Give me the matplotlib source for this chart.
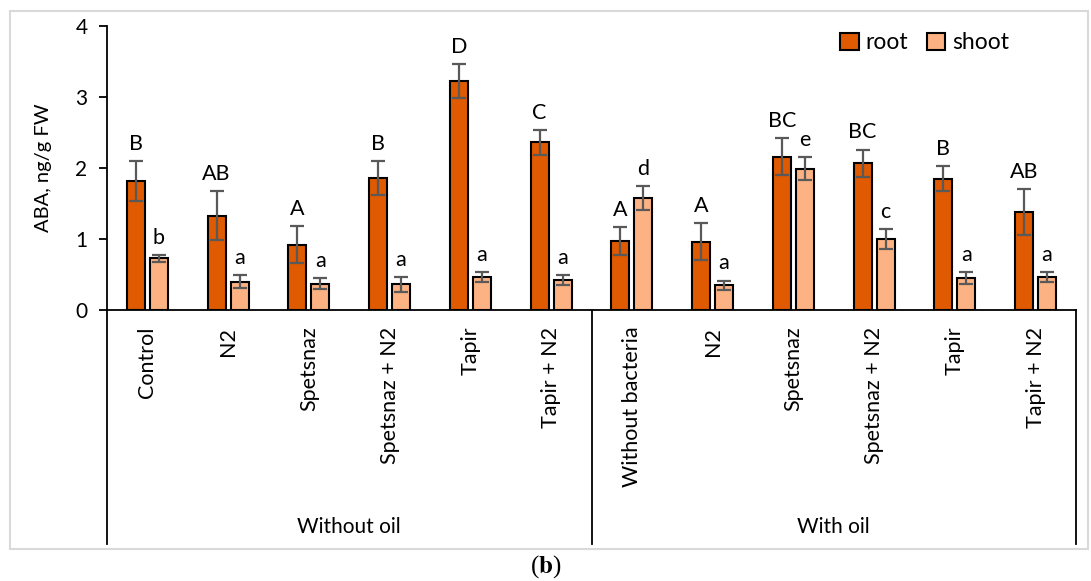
import numpy as np
import matplotlib.pyplot as plt
from matplotlib.patches import Rectangle
import matplotlib.transforms as mtransforms

plt.rcParams['font.family'] = ['Lato', 'DejaVu Sans']
plt.rcParams['mathtext.fontset'] = 'stix'

# data
categories = ['Control', 'N2', 'Spetsnaz', 'Spetsnaz + N2', 'Tapir', 'Tapir + N2',
              'Without bacteria', 'N2', 'Spetsnaz', 'Spetsnaz + N2', 'Tapir', 'Tapir + N2']
groups = ['Without oil', 'With oil']
root = [1.82, 1.33, 0.92, 1.86, 3.22, 2.36, 0.97, 0.96, 2.16, 2.07, 1.85, 1.38]
root_err = [0.28, 0.35, 0.26, 0.24, 0.24, 0.18, 0.20, 0.26, 0.26, 0.19, 0.18, 0.32]
shoot = [0.73, 0.40, 0.37, 0.36, 0.46, 0.42, 1.58, 0.35, 1.99, 1.00, 0.45, 0.46]
shoot_err = [0.05, 0.09, 0.08, 0.11, 0.07, 0.07, 0.17, 0.065, 0.16, 0.145, 0.08, 0.07]
root_letters = ['B', 'AB', 'A', 'B', 'D', 'C', 'A', 'A', 'BC', 'BC', 'B', 'AB']
shoot_letters = ['b', 'a', 'a', 'a', 'a', 'a', 'd', 'a', 'e', 'c', 'a', 'a']

root_color = '#DF5A00'
shoot_color = '#FDB283'

fig = plt.figure(figsize=(10.91, 5.81), dpi=100)
ax = fig.add_axes([107/1091, 1-310/581, 969/1091, 284/581])

x = np.arange(len(categories))
off = 0.142
w = 0.223
ekw = dict(ecolor='#595959', elinewidth=1.6, capsize=5, capthick=1.6)
ax.bar(x - off, root, w, yerr=root_err, color=root_color, edgecolor='black',
       linewidth=1.5, label='root', error_kw=ekw, zorder=2)
ax.bar(x + off, shoot, w, yerr=shoot_err, color=shoot_color, edgecolor='black',
       linewidth=1.5, label='shoot', error_kw=ekw, zorder=2)

# significance letters
for i in range(len(categories)):
    ax.text(x[i] - off, root[i] + root_err[i] + 0.1, root_letters[i],
            ha='center', va='bottom', fontsize=15.5)
    ax.text(x[i] + off, shoot[i] + shoot_err[i] + 0.1, shoot_letters[i],
            ha='center', va='bottom', fontsize=15.5)

ax.set_xlim(-0.5, len(categories) - 0.5)
ax.set_ylim(0, 4)
ax.set_yticks([0, 1, 2, 3, 4])
ax.set_xticks(x)
ax.set_xticklabels(categories, rotation=90, fontsize=15.5, va='top')
ax.tick_params(axis='x', length=0, pad=12)
ax.tick_params(axis='y', labelsize=15, length=6, width=1.3, direction='out', pad=8)
ax.set_ylabel('ABA, ng/g FW', fontsize=14.5, labelpad=17)

for s in ['top', 'right']:
    ax.spines[s].set_visible(False)
ax.spines['left'].set_linewidth(1.3)
ax.spines['bottom'].set_linewidth(1.3)

# group separators and labels
trans = mtransforms.blended_transform_factory(ax.transData, ax.transAxes)
low = -(544 - 310) / 284
for xv in [-0.5, 5.5, 11.5]:
    ax.plot([xv, xv], [0, low], transform=trans, color='black', lw=1.3, clip_on=False)
ax.text(2.5, -0.765, groups[0], transform=trans, ha='center', va='center', fontsize=15)
ax.text(8.5, -0.765, groups[1], transform=trans, ha='center', va='center', fontsize=15)

ax.legend(loc='upper right', bbox_to_anchor=(0.952, 1.05), ncol=2, frameon=False,
          fontsize=16.5, handlelength=0.8, handleheight=0.8, handletextpad=0.3,
          columnspacing=0.8)

# outer border and caption
fig.patches.append(Rectangle((10/1091, 1-549/581), 1078/1091, 538/581,
                             transform=fig.transFigure, fill=False,
                             edgecolor='#D9D9D9', linewidth=1.5))
fig.text(0.5, 1-567/581, r'($\mathbf{b}$)', ha='center', va='center',
         fontsize=18, family='Liberation Serif')

fig.savefig('out.png', dpi=100)
